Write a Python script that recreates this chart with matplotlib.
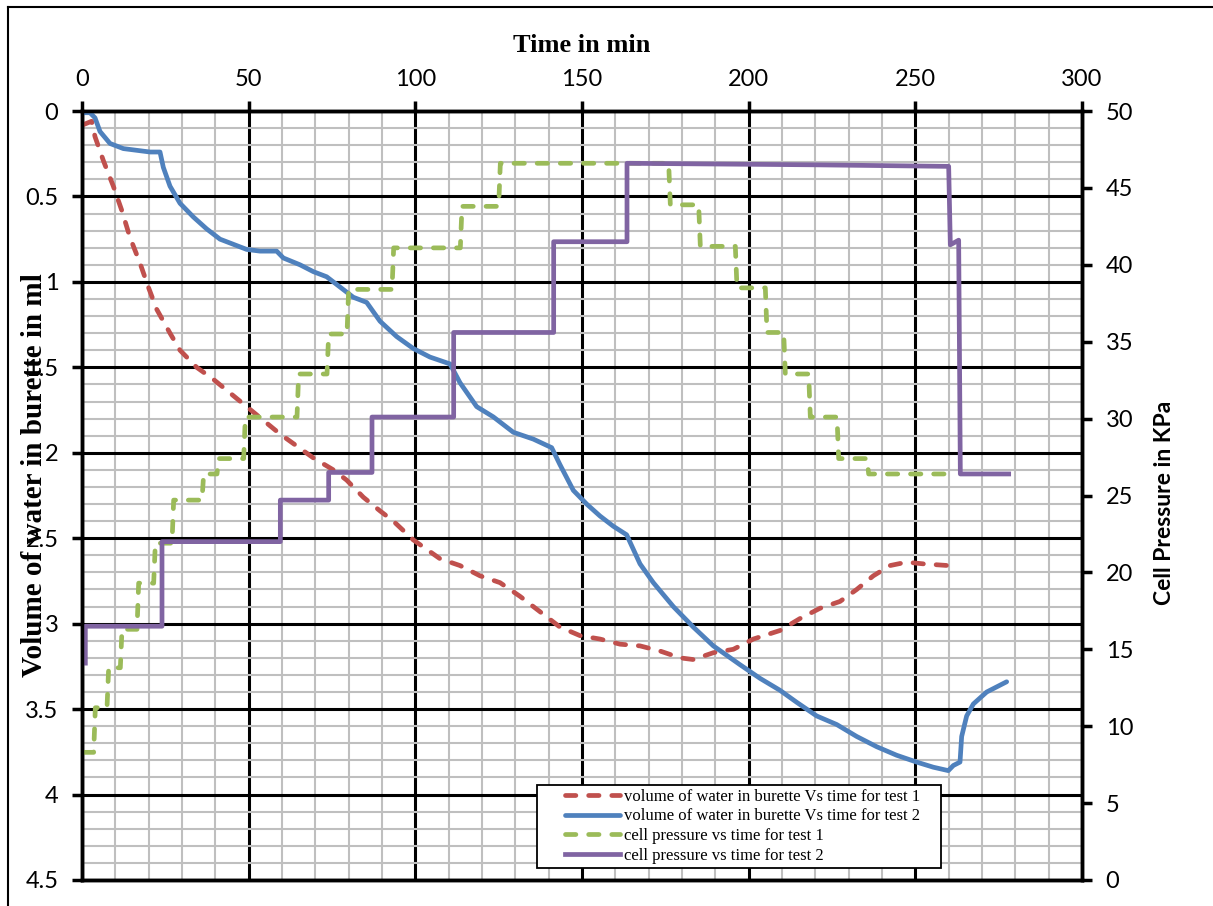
import numpy as np
import matplotlib
matplotlib.use("Agg")
import matplotlib.pyplot as plt
from matplotlib.lines import Line2D
from matplotlib.legend_handler import HandlerLine2D
from matplotlib.ticker import MultipleLocator

# Test 1: volume of water in burette (ml) against time (min)
t_vol1 = [0.4, 2.9, 3.9, 6.4, 9.4, 11.9, 14.4, 17.4, 19.9, 22.4, 26.4, 29.4, 34.4,
          39.4, 44.4, 49.4, 54.4, 59.4, 64.4, 69.4, 75.4, 79.4, 84.4, 89.4, 93.4,
          99.4, 107.4, 113.4, 119.4, 125.4, 131.4, 137.4, 143.4, 149.4, 155.4,
          161.4, 167.4, 173.4, 179.4, 183.4, 189.4, 195.4, 201.4, 209.4, 215.4,
          221.4, 227.4, 232.4, 237.4, 242.4, 247.4, 252.4, 259.9]
vol1 = [0.08, 0.06, 0.15, 0.29, 0.44, 0.58, 0.74, 0.89, 1.03, 1.16, 1.30, 1.40, 1.50,
        1.57, 1.65, 1.73, 1.81, 1.89, 1.96, 2.03, 2.10, 2.16, 2.26, 2.34, 2.40,
        2.51, 2.62, 2.66, 2.72, 2.76, 2.84, 2.93, 3.02, 3.07, 3.09,
        3.12, 3.13, 3.16, 3.20, 3.21, 3.17, 3.15, 3.09, 3.04, 2.97,
        2.91, 2.87, 2.80, 2.72, 2.66, 2.64, 2.65, 2.66]

# Test 2: volume of water in burette (ml) against time (min)
t_vol2 = [0, 2.4, 3.9, 5.4, 8.4, 12.4, 16.4, 20.4, 23.4, 24.4, 26.4, 29.4, 33.4,
          37.4, 41.4, 45.4, 49.4, 53.4, 58.4, 60.4, 65.4, 69.4, 73.4, 77.4, 81.4,
          85.4, 89.4, 94.4, 99.4, 104.4, 110.4, 113.4, 118.4, 123.4, 129.4, 135.4,
          140.9, 143.4, 147.4, 151.4, 155.4, 159.4, 163.4, 167.4, 171.4, 177.4,
          183.4, 189.4, 197.4, 203.4, 209.4, 214.4, 220.4, 226.4, 232.4, 238.4,
          244.4, 250.4, 255.4, 259.9, 261.4, 263.4, 263.9, 265.4, 267.4, 271.4, 277.4]
vol2 = [0.01, 0.01, 0.04, 0.12, 0.19, 0.22, 0.23, 0.24, 0.24, 0.33, 0.44, 0.54, 0.62,
        0.69, 0.75, 0.78, 0.81, 0.82, 0.82, 0.86, 0.90, 0.94, 0.97, 1.03, 1.09,
        1.12, 1.23, 1.32, 1.39, 1.44, 1.48, 1.59, 1.73, 1.79, 1.88, 1.92,
        1.97, 2.07, 2.22, 2.30, 2.37, 2.43, 2.48, 2.65, 2.76, 2.90,
        3.02, 3.13, 3.24, 3.32, 3.39, 3.46, 3.54, 3.59, 3.66, 3.72,
        3.77, 3.81, 3.84, 3.86, 3.83, 3.81, 3.66, 3.54, 3.47, 3.40, 3.34]

# Test 1: cell pressure (KPa) against time (min)
t_p1 = [0.5, 3.5, 4, 7.5, 8, 11.5, 12, 16.5, 17, 21.5, 22, 27, 27.5, 36, 36.5,
        40.5, 41, 48.5, 49, 64.5, 65, 73.5, 74, 79.5, 80, 93, 93.5, 113.5, 114,
        125, 125.5, 176, 176.5, 185, 185.5, 196, 196.5, 205, 205.5, 210.5, 211,
        218, 218.5, 226.5, 227, 235.5, 236, 259.5]
p1 = [8.3, 8.3, 11.2, 11.2, 13.8, 13.8, 16.3, 16.3, 19.3, 19.3, 21.9, 21.9, 24.7,
      24.7, 26.4, 26.4, 27.4, 27.4, 30.1, 30.1, 32.9, 32.9, 35.5, 35.5, 38.4,
      38.4, 41.1, 41.1, 43.8, 43.8, 46.6, 46.6, 43.9, 43.9, 41.2, 41.2, 38.5,
      38.5, 35.6, 35.6, 32.9, 32.9, 30.1, 30.1, 27.4, 27.4, 26.4, 26.4]

# Test 2: cell pressure (KPa) against time (min)
t_p2 = [1, 1, 24, 24, 59.5, 59.5, 74, 74, 87, 87, 111.5, 111.5, 141.5, 141.5,
        163.5, 163.5, 220, 260, 260.5, 263, 263.5, 278]
p2 = [14.1, 16.5, 16.5, 22, 22, 24.7, 24.7, 26.5, 26.5, 30.1, 30.1, 35.6, 35.6,
      41.5, 41.5, 46.6, 46.5, 46.4, 41.3, 41.6, 26.4, 26.4]

labels = ["volume of water in burette Vs time for test 1",
          "volume of water in burette Vs time for test 2",
          "cell pressure vs time for test 1",
          "cell pressure vs time for test 2"]

RED = "#C0504D"
BLUE = "#4F81BD"
GREEN = "#9BBB59"
PURPLE = "#8064A2"
TICK_FONT = "Lato"
SERIF = "Liberation Serif"
LW = 3.4
DASH = (2.2, 2.7)


class IndentedLineHandler(HandlerLine2D):
    """Legend line that leaves blank space on the left of the handle box."""
    def get_xdata(self, legend, xdescent, ydescent, width, height, fontsize):
        xdata = np.array([-xdescent + 0.31 * width, -xdescent + width])
        return xdata, np.array([-xdescent + 0.65 * width])


W, H = 1213, 906
fig = plt.figure(figsize=(W / 100, H / 100), dpi=100)
fig.patch.set_facecolor("white")

# outer chart border (top and left edges visible)
fig.add_artist(Line2D([8 / W, 8 / W], [0, 1 - 7 / H], transform=fig.transFigure,
                      color="black", lw=1.5))
fig.add_artist(Line2D([8 / W, 1], [1 - 7 / H, 1 - 7 / H], transform=fig.transFigure,
                      color="black", lw=1.5))

ax = fig.add_axes([82 / W, (H - 880) / H, 1000 / W, 769 / H])
ax.set_xlim(0, 300)
ax.set_ylim(4.5, 0)
ax.xaxis.tick_top()
ax.xaxis.set_label_position("top")
ax.xaxis.set_major_locator(MultipleLocator(50))
ax.xaxis.set_minor_locator(MultipleLocator(10))
ax.yaxis.set_minor_locator(MultipleLocator(0.1))
ax.set_yticks([0, 0.5, 1, 1.5, 2, 2.5, 3, 3.5, 4, 4.5])
ax.set_yticklabels(["0", "0.5", "1", "1.5", "2", "2.5", "3", "3.5", "4", "4.5"])

ax.grid(which="minor", color="#bfbfbf", lw=1.5, zorder=0)
ax.grid(which="major", color="black", lw=2.2, zorder=0)
ax.set_axisbelow(True)
for s in ax.spines.values():
    s.set_linewidth(2.5)
ax.tick_params(which="major", direction="out", length=7, width=2.5,
               labelsize=17, pad=8)
ax.tick_params(which="minor", length=0)
ax.tick_params(axis="y", pad=10)
for lab in ax.get_xticklabels() + ax.get_yticklabels():
    lab.set_fontfamily(TICK_FONT)

ax.set_xlabel("Time in min", fontsize=19, fontweight="bold", family=SERIF, labelpad=12)
ax.set_ylabel("Volume of water in burette in ml", fontsize=21, fontweight="bold",
              family=SERIF)
ax.yaxis.set_label_coords(-0.034, 0.527)

l1, = ax.plot(t_vol1, vol1, color=RED, lw=LW, dashes=DASH, dash_capstyle="round",
              zorder=3)
l2, = ax.plot(t_vol2, vol2, color=BLUE, lw=LW, solid_capstyle="round",
              solid_joinstyle="round", zorder=3)

ax2 = ax.twinx()
ax2.set_ylim(0, 50)
ax2.yaxis.set_major_locator(MultipleLocator(5))
ax2.tick_params(axis="y", direction="out", length=7, width=2.5, labelsize=17, pad=10)
for lab in ax2.get_yticklabels():
    lab.set_fontfamily(TICK_FONT)
for s in ax2.spines.values():
    s.set_linewidth(2.5)
ax2.set_ylabel("Cell Pressure in KPa", fontsize=16.5, fontweight="bold",
               family=TICK_FONT, labelpad=12)
ax2.yaxis.set_label_coords(1.072, 0.49)

l3, = ax2.plot(t_p1, p1, color=GREEN, lw=LW, dashes=DASH, dash_capstyle="round",
               solid_joinstyle="round")
l4, = ax2.plot(t_p2, p2, color=PURPLE, lw=LW, solid_joinstyle="round")

# legend box spans pixels x 537..941, y 783..868
leg = ax2.legend([l1, l2, l3, l4], labels, loc="lower left",
                 bbox_to_anchor=((537 - 82) / 1000, 12 / 769, 404 / 1000, 85 / 769),
                 mode="expand", prop={"family": SERIF, "size": 12},
                 frameon=True, fancybox=False, framealpha=1,
                 handlelength=4.7, handletextpad=0.3, borderpad=0.25,
                 labelspacing=0.22, borderaxespad=0,
                 handler_map={Line2D: IndentedLineHandler()})
leg.get_frame().set_edgecolor("black")
leg.get_frame().set_linewidth(1.3)
leg.set_zorder(10)

fig.savefig("out.png", dpi=100)
